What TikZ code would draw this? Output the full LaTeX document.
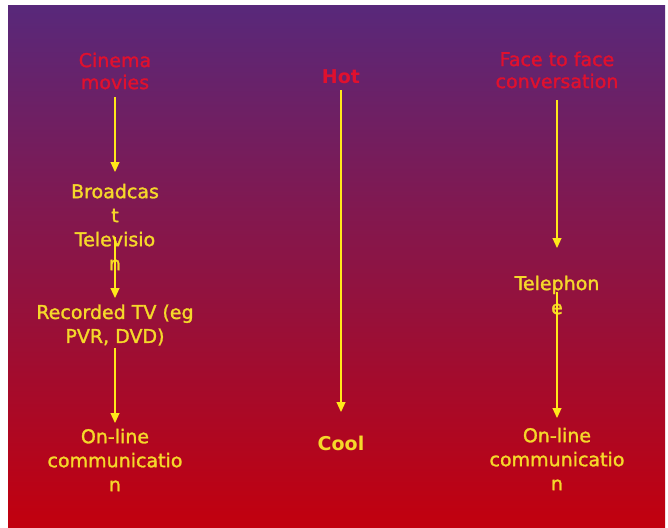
\documentclass[tikz,border=0pt]{standalone}
\usepackage{fontspec}
\setmainfont{DejaVu Sans}
\newfontfamily\semibold[FakeBold=1.5]{DejaVu Sans}
\usetikzlibrary{arrows.meta}
\definecolor{bgtop}{HTML}{58287A}
\definecolor{bgbot}{HTML}{C2000E}
\definecolor{ylw}{HTML}{F5D82A}
\definecolor{lnylw}{HTML}{FFE81A}
\definecolor{redtxt}{HTML}{E0102E}
\begin{document}
\begin{tikzpicture}[x=1pt,y=-1pt,
  lbl/.style={text=ylw, font=\semibold\fontsize{19}{24}\selectfont, align=center, inner sep=0pt},
  hd/.style={text=redtxt, font=\semibold\fontsize{19}{22}\selectfont, align=center, inner sep=0pt},
  conn/.style={draw=lnylw, line width=1.1pt, -{Triangle[width=9pt,length=10pt]}}]
\useasboundingbox (0,0) rectangle (668,527);
\fill[white] (0,0) rectangle (668,527);
\shade[top color=bgtop, bottom color=bgbot] (8,6) rectangle (665,527);
% left column
\node[hd] (cinema) at (115,71) {Cinema\\movies};
\node[lbl] (broadcast) at (115,227) {Broadcas\\t\\Televisio\\n};
\node[lbl] (recorded) at (115,325) {Recorded TV (eg\\PVR, DVD)};
\node[lbl] (onlineL) at (115,460) {On-line\\communicatio\\n};
% middle column
\node[hd, font=\fontsize{19}{22}\bfseries\selectfont] (hot) at (341,77) {Hot};
\node[lbl, font=\fontsize{19}{24}\bfseries\selectfont] (cool) at (341,443) {Cool};
% right column
\node[hd] (face) at (557,70) {Face to face\\conversation};
\node[lbl] (tele) at (557,295) {Telephon\\e};
\node[lbl] (onlineR) at (557,459) {On-line\\communicatio\\n};
% connectors
\draw[conn, shorten <=26pt, shorten >=55pt] (cinema.center) -- (broadcast.center);
\draw[conn, shorten <=10pt, shorten >=27pt] (broadcast.center) -- (recorded.center);
\draw[conn, shorten <=23pt, shorten >=37pt] (recorded.center) -- (onlineL.center);
\draw[conn, shorten <=13pt, shorten >=31pt] (hot.center) -- (cool.center);
\draw[conn, shorten <=30pt, shorten >=47pt] (face.center) -- (tele.center);
\draw[conn, shorten <=-3pt, shorten >=41pt] (tele.center) -- (onlineR.center);
\end{tikzpicture}
\end{document}
